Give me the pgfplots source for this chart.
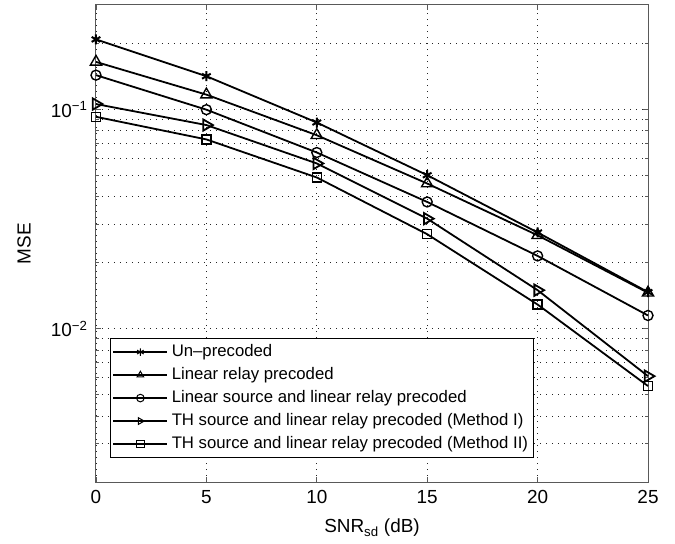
\documentclass[border=0pt]{standalone}
\usepackage{fontspec}
\setmainfont{Liberation Sans}
\usepackage{pgfplots}
\pgfplotsset{compat=1.18}
\usetikzlibrary{calc}

\begin{document}
\begin{tikzpicture}
\begin{axis}[
    name=ax,
    scale only axis, width=552bp, height=477bp,
    xmin=0, xmax=25, ymode=log, ymin=0.002, ymax=0.3,
    xtick={0,5,10,15,20,25},
    ytick={0.01,0.1},
    yticklabels={10\textsuperscript{−2},10\textsuperscript{−1}},
    minor ytick={0.003,0.004,0.005,0.006,0.007,0.008,0.009,0.02,0.03,0.04,0.05,0.06,0.07,0.08,0.09,0.2},
    /pgf/number format/assume math mode=true,
    grid=both,
    major grid style={black!85, line width=0.9bp, dash pattern=on 1.2bp off 4.8bp},
    minor grid style={black!85, line width=0.9bp, dash pattern=on 1.2bp off 4.8bp},
    axis line style={black!65, line width=1bp},
    tick style={black!65, line width=0.8bp},
    major tick length=5bp, minor tick length=3bp,
    tick label style={font=\fontsize{19}{22}\selectfont},
    xticklabel style={yshift=-5bp},
    yticklabel style={xshift=-5bp},
    xlabel={SNR\textsubscript{sd} (dB)},
    ylabel={MSE},
    label style={font=\fontsize{19}{22}\selectfont},
    xlabel style={at={(axis description cs:0.5,0)}, anchor=center, yshift=-46bp},
    ylabel style={at={(axis description cs:0,0.5)}, anchor=center, yshift=72bp},
    clip=false,
    every axis plot/.append style={black, line width=1.8bp, mark options={solid, line width=1.4bp, fill=white}},
    legend style={at={(axis description cs:0.0254,0.0503)}, anchor=south west,
        draw=black, line width=0.9bp, fill=white, inner sep=2bp,
        font=\fontsize{16.8}{19}\selectfont,
        nodes={inner sep=3.5bp, text height=12bp, text depth=4bp},
        row sep=0pt},
    legend cell align=left,
    legend image code/.code={\draw[#1, mark size=3.8bp, mark repeat=2, mark phase=2, every mark/.append style={line width=1bp}] plot coordinates {(0bp,0bp) (27bp,0bp) (54bp,0bp)};},
]
\addplot[mark=asterisk, mark size=5bp, mark options={line width=2bp}] coordinates {(0,0.209)(5,0.142)(10,0.0873)(15,0.0502)(20,0.0275)(25,0.0147)};
\addlegendentry{Un–precoded}
\addplot[mark=triangle, mark size=6.5bp] coordinates {(0,0.165)(5,0.117)(10,0.0764)(15,0.046)(20,0.0267)(25,0.0146)};
\addlegendentry{Linear relay precoded}
\addplot[mark=o, mark size=5bp] coordinates {(0,0.1436)(5,0.0999)(10,0.0637)(15,0.0379)(20,0.0215)(25,0.0115)};
\addlegendentry{Linear source and linear relay precoded}
\addplot[mark=triangle, mark size=6.5bp, mark options={rotate=-90}] coordinates {(0,0.106)(5,0.085)(10,0.0568)(15,0.0318)(20,0.0150)(25,0.00608)};
\addlegendentry{TH source and linear relay precoded (Method I)}
\addplot[mark=square, mark size=4.5bp] coordinates {(0,0.0927)(5,0.0731)(10,0.049)(15,0.027)(20,0.0129)(25,0.00548)};
\addlegendentry{TH source and linear relay precoded (Method II)}
\end{axis}
\pgfresetboundingbox
\useasboundingbox ($(ax.south west)+(-96bp,-62bp)$) rectangle ($(ax.north east)+(27bp,5bp)$);
\end{tikzpicture}
\end{document}
